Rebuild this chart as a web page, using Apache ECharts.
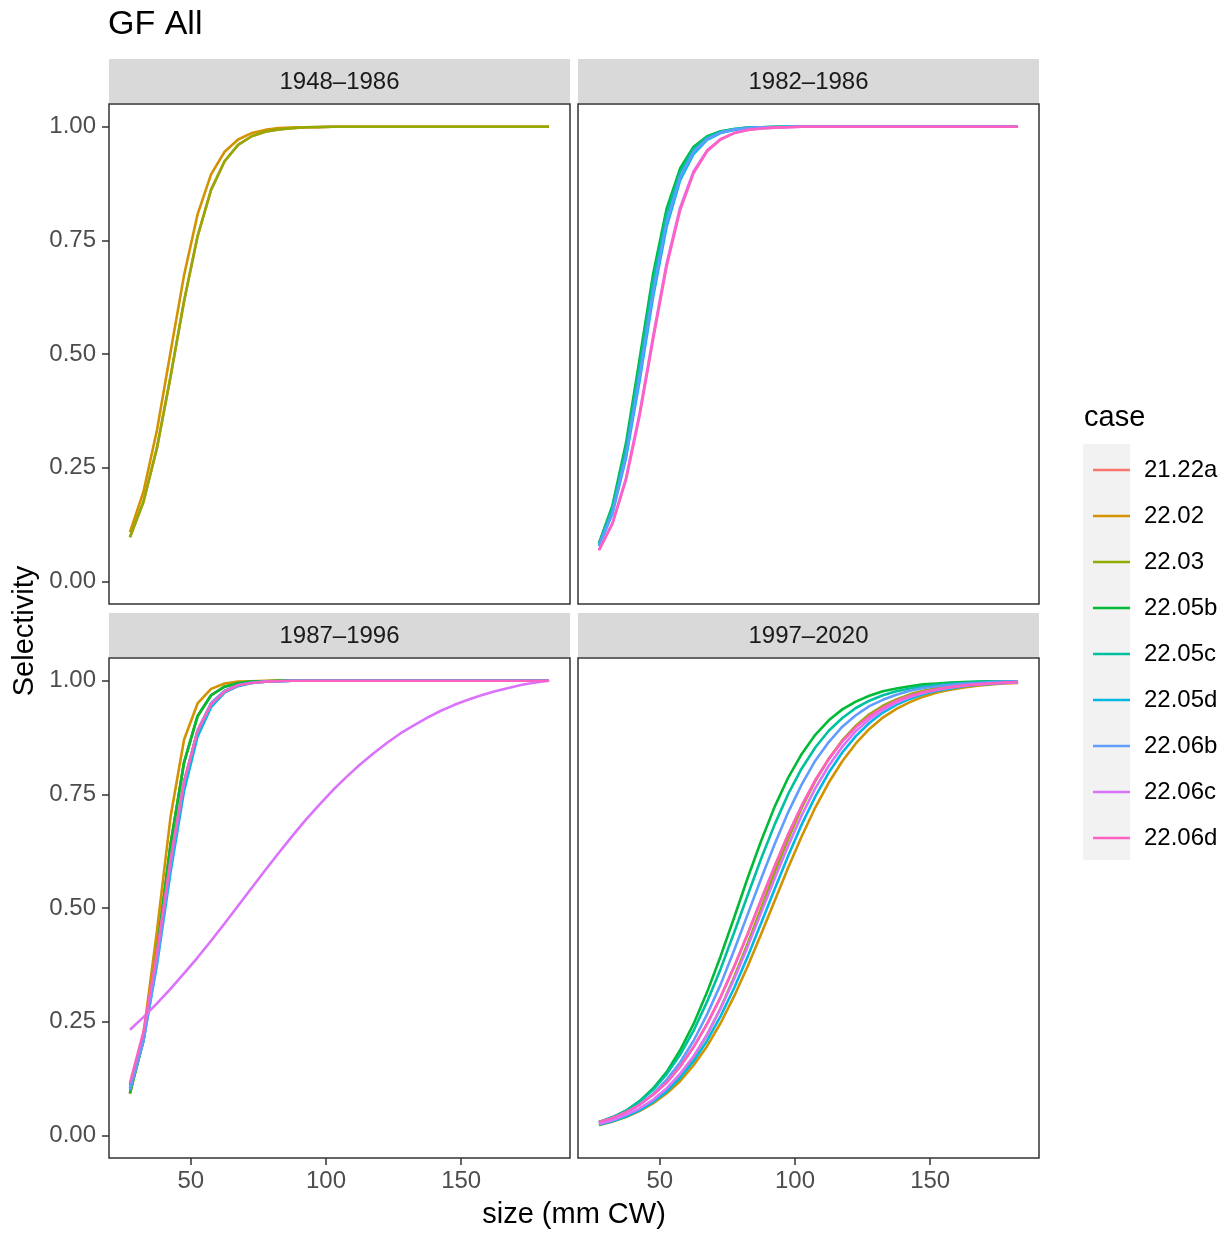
<!DOCTYPE html>
<html><head><meta charset="utf-8">
<script src="https://cdn.jsdelivr.net/npm/echarts@6/dist/echarts.min.js"></script>
<style>html,body{margin:0;padding:0;background:#fff}#c{width:1228px;height:1234px}</style>
</head><body><div id="c"></div>
<script>
const sizes = [27.5,32.5,37.5,42.5,47.5,52.5,57.5,62.5,67.5,72.5,77.5,82.5,87.5,92.5,97.5,102.5,107.5,112.5,117.5,122.5,127.5,132.5,137.5,142.5,147.5,152.5,157.5,162.5,167.5,172.5,177.5,182.5];
const cases = ['21.22a','22.02','22.03','22.05b','22.05c','22.05d','22.06b','22.06c','22.06d'];
const caseColors = ['#F8766D','#D39200','#93AA00','#00BA38','#00C19F','#00B9E3','#619CFF','#DB72FB','#FF61C3'];
const periods = ['1948\u20131986','1982\u20131986','1987\u20131996','1997\u20132020'];
const yTicks = [0,0.25,0.5,0.75,1];
const xTicks = [50,100,150];

// 1948-1986
const p1_2122a = [0.097,0.175,0.294,0.450,0.616,0.759,0.861,0.924,0.960,0.979, 0.989,0.994,0.997,0.999,0.999,1,1,1,1,1, 1,1,1,1,1,1,1,1,1,1, 1,1];
const p1_2202  = [0.108,0.197,0.333,0.504,0.673,0.807,0.895,0.945,0.972,0.986, 0.993,0.997,0.998,0.999,1,1,1,1,1,1, 1,1,1,1,1,1,1,1,1,1, 1,1];
const p1_2203  = [0.097,0.175,0.294,0.450,0.616,0.759,0.861,0.924,0.960,0.979, 0.989,0.994,0.997,0.999,0.999,1,1,1,1,1, 1,1,1,1,1,1,1,1,1,1, 1,1];
// 1982-1986
const p2_2205b = [0.084,0.167,0.304,0.488,0.675,0.819,0.908,0.956,0.979,0.990, 0.995,0.998,0.999,1,1,1,1,1,1,1, 1,1,1,1,1,1,1,1,1,1, 1,1];
const p2_2205c = [0.082,0.162,0.294,0.473,0.660,0.807,0.900,0.951,0.977,0.989, 0.995,0.998,0.999,1,1,1,1,1,1,1, 1,1,1,1,1,1,1,1,1,1, 1,1];
const p2_2205d = [0.077,0.149,0.271,0.440,0.625,0.779,0.882,0.940,0.971,0.986, 0.993,0.997,0.999,0.999,1,1,1,1,1,1, 1,1,1,1,1,1,1,1,1,1, 1,1];
const p2_2206b = [0.078,0.152,0.277,0.451,0.637,0.789,0.889,0.945,0.973,0.987, 0.994,0.997,0.999,0.999,1,1,1,1,1,1, 1,1,1,1,1,1,1,1,1,1, 1,1];
const p2_2206c = [0.069,0.128,0.227,0.369,0.538,0.699,0.822,0.902,0.948,0.973, 0.986,0.993,0.996,0.998,0.999,1,1,1,1,1, 1,1,1,1,1,1,1,1,1,1, 1,1];
const p2_2206d = [0.068,0.127,0.223,0.363,0.531,0.692,0.816,0.898,0.946,0.972, 0.986,0.993,0.996,0.998,0.999,1,1,1,1,1, 1,1,1,1,1,1,1,1,1,1, 1,1];
// 1987-1996
const p3_2122a = [0.093,0.209,0.406,0.639,0.820,0.922,0.968,0.987,0.995,0.998, 0.999,1,1,1,1,1,1,1,1,1, 1,1,1,1,1,1,1,1,1,1, 1,1];
const p3_2202  = [0.091,0.223,0.450,0.700,0.870,0.950,0.982,0.994,0.998,0.999, 1,1,1,1,1,1,1,1,1,1, 1,1,1,1,1,1,1,1,1,1, 1,1];
const p3_2203  = [0.093,0.209,0.406,0.639,0.820,0.922,0.968,0.987,0.995,0.998, 0.999,1,1,1,1,1,1,1,1,1, 1,1,1,1,1,1,1,1,1,1, 1,1];
const p3_2205b = [0.093,0.209,0.406,0.639,0.820,0.922,0.968,0.987,0.995,0.998, 0.999,1,1,1,1,1,1,1,1,1, 1,1,1,1,1,1,1,1,1,1, 1,1];
const p3_2205c = [0.110,0.222,0.398,0.604,0.778,0.890,0.949,0.977,0.990,0.995, 0.998,0.999,1,1,1,1,1,1,1,1, 1,1,1,1,1,1,1,1,1,1, 1,1];
const p3_2205d = [0.103,0.208,0.375,0.578,0.757,0.877,0.942,0.974,0.988,0.995, 0.998,0.999,1,1,1,1,1,1,1,1, 1,1,1,1,1,1,1,1,1,1, 1,1];
const p3_2206b = [0.100,0.207,0.382,0.593,0.775,0.891,0.951,0.978,0.991,0.996, 0.998,0.999,1,1,1,1,1,1,1,1, 1,1,1,1,1,1,1,1,1,1, 1,1];
const p3_2206c = [0.232,0.260,0.290,0.322,0.356,0.391,0.428,0.466,0.505,0.544, 0.583,0.621,0.658,0.694,0.727,0.759,0.788,0.815,0.840,0.863, 0.884,0.902,0.919,0.934,0.947,0.958,0.968,0.977,0.984,0.991, 0.996,1.000];
const p3_2206d = [0.115,0.228,0.402,0.606,0.778,0.889,0.948,0.976,0.990,0.995, 0.998,0.999,1,1,1,1,1,1,1,1, 1,1,1,1,1,1,1,1,1,1, 1,1];
// 1997-2020
const p4_2122a = [0.029,0.038,0.051,0.067,0.089,0.116,0.151,0.194,0.245,0.304, 0.371,0.443,0.518,0.592,0.662,0.725,0.781,0.828,0.867,0.898, 0.922,0.941,0.956,0.967,0.975,0.981,0.986,0.990,0.992,0.994, 0.996,0.997];
const p4_2202  = [0.023,0.030,0.040,0.053,0.070,0.092,0.119,0.154,0.196,0.247, 0.306,0.372,0.443,0.516,0.589,0.658,0.721,0.776,0.823,0.862, 0.894,0.919,0.938,0.953,0.965,0.974,0.980,0.985,0.989,0.992, 0.994,0.995];
const p4_2203  = [0.022,0.031,0.041,0.056,0.075,0.099,0.131,0.172,0.221,0.280, 0.348,0.422,0.500,0.578,0.652,0.720,0.779,0.828,0.869,0.901, 0.926,0.945,0.959,0.970,0.978,0.984,0.988,0.991,0.994,0.995, 0.996,0.997];
const p4_2205b = [0.028,0.039,0.054,0.075,0.103,0.139,0.187,0.245,0.315,0.394, 0.479,0.566,0.648,0.723,0.787,0.839,0.881,0.913,0.937,0.954, 0.967,0.977,0.983,0.988,0.992,0.994,0.996,0.997,0.998,0.999, 0.999,0.999];
const p4_2205c = [0.029,0.040,0.054,0.074,0.100,0.134,0.177,0.230,0.294,0.366, 0.446,0.528,0.609,0.684,0.751,0.807,0.853,0.890,0.918,0.940, 0.956,0.968,0.977,0.983,0.988,0.991,0.994,0.995,0.997,0.998, 0.998,0.999];
const p4_2205d = [0.023,0.031,0.041,0.055,0.073,0.096,0.126,0.163,0.208,0.262, 0.324,0.393,0.467,0.542,0.615,0.684,0.745,0.798,0.842,0.878, 0.907,0.930,0.947,0.960,0.970,0.978,0.983,0.988,0.991,0.993, 0.995,0.996];
const p4_2206b = [0.027,0.037,0.050,0.068,0.091,0.122,0.160,0.208,0.266,0.332, 0.407,0.486,0.565,0.641,0.711,0.772,0.824,0.865,0.899,0.924, 0.944,0.958,0.969,0.978,0.984,0.988,0.991,0.994,0.995,0.997, 0.998,0.998];
const p4_2206c = [0.025,0.033,0.045,0.059,0.078,0.103,0.135,0.174,0.222,0.279, 0.344,0.415,0.490,0.565,0.637,0.704,0.763,0.813,0.855,0.889, 0.915,0.936,0.952,0.964,0.973,0.980,0.985,0.989,0.992,0.994, 0.995,0.997];
const p4_2206d = [0.029,0.038,0.051,0.067,0.089,0.116,0.151,0.194,0.245,0.304, 0.371,0.443,0.518,0.592,0.662,0.725,0.781,0.828,0.867,0.898, 0.922,0.941,0.956,0.967,0.975,0.981,0.986,0.990,0.992,0.994, 0.996,0.997];

const panelSeries = [
  {'21.22a':p1_2122a,'22.02':p1_2202,'22.03':p1_2203},
  {'22.05b':p2_2205b,'22.05c':p2_2205c,'22.05d':p2_2205d,'22.06b':p2_2206b,'22.06c':p2_2206c,'22.06d':p2_2206d},
  {'21.22a':p3_2122a,'22.02':p3_2202,'22.03':p3_2203,'22.05b':p3_2205b,'22.05c':p3_2205c,'22.05d':p3_2205d,'22.06b':p3_2206b,'22.06c':p3_2206c,'22.06d':p3_2206d},
  {'21.22a':p4_2122a,'22.02':p4_2202,'22.03':p4_2203,'22.05b':p4_2205b,'22.05c':p4_2205c,'22.05d':p4_2205d,'22.06b':p4_2206b,'22.06c':p4_2206c,'22.06d':p4_2206d}
];

const FONT = '"Liberation Sans", Arial, Helvetica, sans-serif';
const PW = 461, PH = 500;
const panelPos = [[109,104],[578,104],[109,658],[578,658]];

const grids = panelPos.map(p => ({left:p[0], top:p[1], width:PW, height:PH, show:true, borderColor:'#333333', borderWidth:1.5, backgroundColor:'#ffffff'}));
const xAxes = panelPos.map((p,i) => ({
  type:'value', gridIndex:i, position:'bottom', min:19.75, max:190.25,
  axisLine:{show:false, onZero:false}, splitLine:{show:false},
  axisTick:{show:i>=2, inside:false, customValues:xTicks, length:7, lineStyle:{color:'#333333', width:1.5}},
  axisLabel:{show:i>=2, customValues:xTicks, margin:11, fontSize:24, color:'#4D4D4D', fontFamily:FONT}
}));
const yAxes = panelPos.map((p,i) => ({
  type:'value', gridIndex:i, position:'left', min:-0.05, max:1.05,
  axisLine:{show:false, onZero:false}, splitLine:{show:false},
  axisTick:{show:i%2===0, inside:false, customValues:yTicks, length:7, lineStyle:{color:'#333333', width:1.5}},
  axisLabel:{show:i%2===0, customValues:yTicks, margin:13, fontSize:24, color:'#4D4D4D', fontFamily:FONT, formatter:v=>v.toFixed(2)}
}));

const series = [];
panelSeries.forEach((ps, pi) => {
  cases.forEach((c, ci) => {
    if (!ps[c]) return;
    series.push({
      type:'line', name:c, xAxisIndex:pi, yAxisIndex:pi,
      data: sizes.map((x,k) => [x, ps[c][k]]),
      symbol:'none', showSymbol:false, smooth:false, clip:true,
      lineStyle:{width:2.6, color:caseColors[ci]},
      itemStyle:{color:caseColors[ci]},
      emphasis:{disabled:true}, animation:false
    });
  });
});

const graphic = [];
panelPos.forEach((p,i) => {
  graphic.push({type:'rect', shape:{x:p[0], y:p[1]-45, width:PW, height:44}, style:{fill:'#D9D9D9'}, z:0});
  graphic.push({type:'text', x:p[0]+PW/2, y:p[1]-22, style:{text:periods[i], font:'24px '+FONT, fill:'#1A1A1A', align:'center', verticalAlign:'middle'}, z:1});
});
graphic.push({type:'text', x:108, y:25, style:{text:'GF All', font:'34px '+FONT, fill:'#000', align:'left', verticalAlign:'middle'}});
graphic.push({type:'text', x:574, y:1215, style:{text:'size (mm CW)', font:'29px '+FONT, fill:'#000', align:'center', verticalAlign:'middle'}});
graphic.push({type:'text', x:25, y:631, rotation:Math.PI/2, style:{text:'Selectivity', font:'29px '+FONT, fill:'#000', align:'center', verticalAlign:'middle'}});
graphic.push({type:'text', x:1084, y:418, style:{text:'case', font:'29px '+FONT, fill:'#000', align:'left', verticalAlign:'middle'}});
graphic.push({type:'rect', shape:{x:1083, y:444, width:47, height:416}, style:{fill:'#F2F2F2'}, z:0});

const chart = echarts.init(document.getElementById('c'), null, {renderer:'canvas', devicePixelRatio:1});
chart.setOption({
  backgroundColor:'#ffffff',
  animation:false,
  grid:grids, xAxis:xAxes, yAxis:yAxes, series:series, graphic:graphic,
  legend:{
    orient:'vertical', left:1088, top:453, itemWidth:37, itemHeight:24, itemGap:22,
    icon:'path://M0,0H37V2.6H0Z', symbolKeepAspect:true,
    data:cases, selectedMode:false,
    textStyle:{fontSize:24, color:'#000', fontFamily:FONT, lineHeight:24, padding:[0,0,0,9]}
  }
});
</script></body></html>
